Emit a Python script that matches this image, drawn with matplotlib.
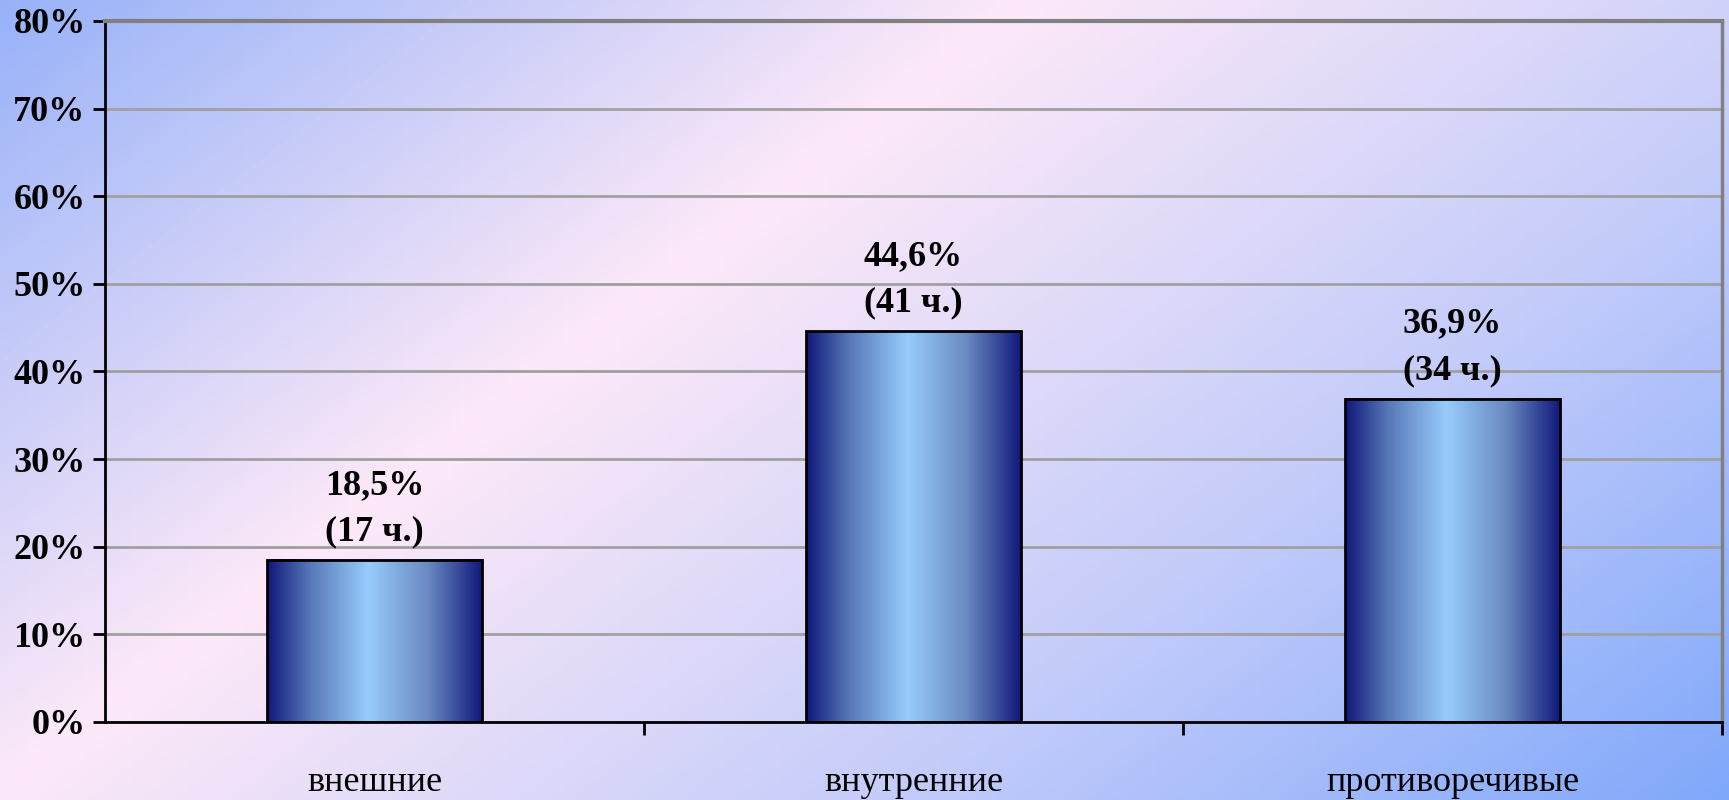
import numpy as np
import matplotlib.pyplot as plt
from matplotlib.colors import LinearSegmentedColormap
from matplotlib.ticker import MultipleLocator, FuncFormatter

categories = ["внешние", "внутренние", "противоречивые"]
percents = [18.5, 44.6, 36.9]
counts = [17, 41, 34]

plt.rcParams['font.family'] = ['Liberation Serif', 'DejaVu Serif']

fig = plt.figure(figsize=(17.29, 8), dpi=100)

# diagonal background gradient: blue -> pink -> blue
bg = fig.add_axes([0, 0, 1, 1], zorder=-10)
xx, yy = np.meshgrid(np.linspace(0, 1, 400), np.linspace(0, 1, 200))
t = (xx + 0.6 * yy) / 1.6
bg_cmap = LinearSegmentedColormap.from_list(
    "bg", [(0, "#98b2f8"), (0.37, "#fde9f8"), (0.7, "#c4ccfa"), (1, "#80a8fa")])
bg.imshow(t, cmap=bg_cmap, aspect="auto", extent=[0, 1, 1, 0])
bg.axis("off")

ax = fig.add_axes([105 / 1729, 78 / 800, 1617 / 1729, 701 / 800])
ax.patch.set_alpha(0)

bar_cmap = LinearSegmentedColormap.from_list(
    "bar", [(0, "#10187a"), (0.2, "#5878b8"), (0.47, "#98ccfc"), (0.75, "#6888c0"), (1, "#10187a")])
grad = np.linspace(0, 1, 256).reshape(1, -1)
width = 0.4
x = np.arange(len(categories))
bars = ax.bar(x, percents, width=width, color="none", edgecolor="black", linewidth=2, zorder=3)
for b in bars:
    x0, w, h = b.get_x(), b.get_width(), b.get_height()
    ax.imshow(grad, cmap=bar_cmap, aspect="auto", extent=[x0, x0 + w, 0, h], zorder=2)

for xi, p, c in zip(x, percents, counts):
    lbl = f"{p:.1f}%".replace(".", ",")
    ax.text(xi, p + 1.3, f"{lbl}\n({c} ч.)", ha="center", va="bottom",
            fontsize=26, fontweight="bold", linespacing=1.55)

ax.set_aspect("auto")
ax.set_xlim(-0.5, 2.5)
ax.set_ylim(0, 80)

ax.yaxis.set_major_locator(MultipleLocator(10))
ax.yaxis.set_major_formatter(FuncFormatter(lambda v, pos: f"{v:.0f}%"))
ax.grid(axis="y", color="#a0a0a0", linewidth=2, zorder=1)
ax.set_axisbelow(True)

ax.set_xticks([0.5, 1.5, 2.5], minor=False)
ax.set_xticklabels([])
ax.set_xticks(x, minor=True)
ax.set_xticklabels(categories, minor=True, fontsize=26)
ax.tick_params(axis="x", which="minor", length=0, pad=32)
ax.tick_params(axis="x", which="major", length=9, width=2, direction="out")
ax.tick_params(axis="y", length=9, width=2, direction="out", pad=5, labelsize=26)
for lab in ax.get_yticklabels():
    lab.set_fontweight("bold")

ax.spines["left"].set_linewidth(2)
ax.spines["bottom"].set_linewidth(2)
ax.spines["right"].set_color("#808080")
ax.spines["right"].set_linewidth(2.5)
ax.spines["top"].set_color("#808080")
ax.spines["top"].set_linewidth(3)

fig.savefig("out.png", dpi=100)
